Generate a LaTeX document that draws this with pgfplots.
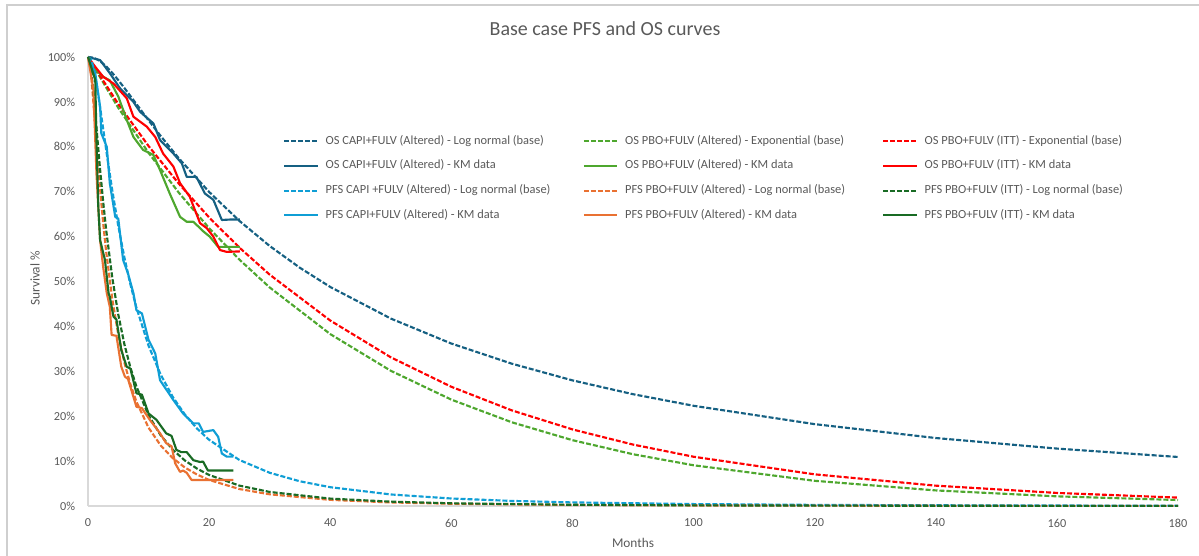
\documentclass[border=0pt]{standalone}
\usepackage{fontspec}
\setmainfont{Carlito}
\usepackage{pgfplots}
\pgfplotsset{compat=1.18}

\definecolor{osblue}{HTML}{156082}
\definecolor{pfsblue}{HTML}{0F9ED5}
\definecolor{osgreen}{HTML}{4EA72E}
\definecolor{pfsorange}{HTML}{E97132}
\definecolor{pfsgreen}{HTML}{196B24}
\definecolor{osred}{HTML}{FF0000}
\definecolor{txtgray}{HTML}{595959}
\definecolor{linegray}{HTML}{D9D9D9}
\definecolor{framegray}{HTML}{CFCFCF}

\newcommand{\lgd}[1]{\makebox[192.75pt][l]{#1}}

\begin{document}
\begin{tikzpicture}
% picture frame: 1 px of the reference = 0.75pt
\path[use as bounding box] (-66pt,-37.5pt) rectangle (833.25pt,379.5pt);
\draw[framegray, line width=1pt] (-60.75pt,-60pt) -- (-60.75pt,375.75pt) -- (900pt,375.75pt);

\begin{axis}[
  at={(0,0)}, anchor=south west,
  scale only axis,
  width=817.5pt, height=336.75pt,
  xmin=0, xmax=180, ymin=0, ymax=100,
  xtick={0,20,...,180},
  ytick={0,10,...,100},
  yticklabel={\pgfmathprintnumber{\tick}\%},
  /pgf/number format/assume math mode=true,
  axis x line*=bottom, axis y line*=left,
  x axis line style={-, draw=linegray, line width=0.9pt},
  y axis line style={-, draw=linegray, line width=0.9pt},
  major tick length=0pt,
  tick label style={font=\fontsize{9.2}{11}\selectfont, text=txtgray, inner sep=0pt},
  yticklabel style={anchor=east, xshift=-9.4pt},
  xticklabel style={anchor=north, yshift=-9.5pt},
  clip=false,
  title={Base case PFS and OS curves},
  title style={at={(0.4743,1)}, anchor=center, yshift=15pt,
    font=\fontsize{15}{17}\selectfont, text=txtgray},
  xlabel={Months},
  xlabel style={at={(0.5,0)}, anchor=center, yshift=-27.75pt,
    font=\fontsize{10}{12}\selectfont, text=txtgray},
  ylabel={Survival \%},
  ylabel style={at={(0,0.5067)}, anchor=center, yshift=39.75pt,
    font=\fontsize{10}{12}\selectfont, text=txtgray},
  legend columns=3,
  legend cell align=left,
  legend style={at={(0.1789,0.8255)}, anchor=north west, draw=none, fill=none,
    font=\fontsize{9.3}{11}\selectfont, text=txtgray, inner sep=0pt,
    row sep=10pt,
    nodes={inner sep=0pt, text height=6.5pt, text depth=2pt},
    /tikz/every odd column/.append style={column sep=5.25pt},
    /tikz/every even column/.append style={column sep=0pt}},
  legend image code/.code={\draw[#1] (0pt,0pt) -- (25pt,0pt);},
  every axis plot/.append style={line width=1.6pt, line join=round},
  fit/.style={dash pattern=on 3.75pt off 1.5pt},
]

% ---- OS fitted curves ----
\addplot[osblue, fit] table {
t s
0 100
1 99.82
2 99.09
3 97.92
4 96.47
5 94.85
6 93.11
8 89.51
10 85.90
12 82.41
15 77.43
20 69.95
25 63.50
30 57.91
35 53.05
40 48.79
50 41.75
60 36.18
70 31.69
80 27.98
90 24.90
100 22.32
120 18.23
140 15.14
160 12.79
180 10.92
};
\addlegendentry{\lgd{OS CAPI+FULV (Altered) - Log normal (base)}}

\addplot[osgreen, fit] table {
t s
0 100
5 88.69
10 78.66
15 69.77
20 61.88
25 54.88
30 48.68
40 38.29
50 30.12
60 23.69
70 18.64
80 14.66
90 11.53
100 9.07
120 5.61
140 3.47
160 2.15
180 1.33
};
\addlegendentry{\lgd{OS PBO+FULV (Altered) - Exponential (base)}}

\addplot[osred, fit] table {
t s
0 100
5 89.53
10 80.17
15 71.78
20 64.27
25 57.55
30 51.53
40 41.31
50 33.12
60 26.55
70 21.29
80 17.06
90 13.68
100 10.97
120 7.05
140 4.53
160 2.91
180 1.87
};
\addlegendentry{\lgd{OS PBO+FULV (ITT) - Exponential (base)}}

% ---- OS KM data ----
\addplot[osblue] table {
t s
0 100
2.0 99.3
3.6 96.4
5.3 93.0
7.5 90.0
8.6 87.8
10.8 85.2
11.9 81.5
14.1 78.5
15.5 76.3
16.3 73.3
17.9 73.3
19.3 69.6
20.7 68.2
22.1 63.7
23.5 63.8
25.1 63.8
};
\addlegendentry{\lgd{OS CAPI+FULV (Altered) - KM data}}

\addplot[osgreen] table {
t s
0 100
1.4 97.0
2.5 95.6
3.6 94.8
5.0 91.2
6.4 86.0
7.5 82.2
9.1 79.3
10.8 78.2
11.9 74.8
13.5 69.6
15.2 64.4
16.3 63.3
17.4 63.3
19.1 61.1
20.1 60.0
21.5 57.7
25.1 57.7
};
\addlegendentry{\lgd{OS PBO+FULV (Altered) - KM data}}

\addplot[osred] table {
t s
0 100
1.2 97.8
2.5 95.6
4.2 94.1
6.4 90.8
7.5 86.7
9.7 84.5
11.1 82.2
12.4 78.5
14.1 75.6
15.2 71.9
16.8 68.9
18.5 63.0
19.6 61.9
20.7 60.0
21.8 57.0
22.9 56.6
25.1 56.7
};
\addlegendentry{\lgd{OS PBO+FULV (ITT) - KM data}}

% ---- PFS fitted curves ----
\addplot[pfsblue, fit] table {
t s
0 100
0.5 99.50
1 97.11
1.5 93.31
2 88.80
3 79.32
4 70.36
5 62.38
6 55.40
7 49.37
8 44.17
10 35.70
12 29.27
14 24.29
16 20.37
18 17.25
20 14.74
25 10.25
30 7.40
35 5.50
40 4.19
50 2.57
60 1.67
70 1.13
80 0.80
100 0.43
120 0.25
150 0.12
180 0.07
};
\addlegendentry{\lgd{PFS CAPI +FULV (Altered) - Log normal (base)}}

\addplot[pfsorange, fit] table {
t s
0 100
0.25 99.28
0.5 96.48
1 87.98
1.5 78.90
2 70.51
2.5 63.10
3 56.64
4 46.17
5 38.19
6 31.98
7 27.11
8 23.23
10 17.44
12 13.49
14 10.66
16 8.57
18 7.01
20 5.80
25 3.78
30 2.60
40 1.37
50 0.79
60 0.50
80 0.22
100 0.12
140 0.04
180 0.02
};
\addlegendentry{\lgd{PFS PBO+FULV (Altered) - Log normal (base)}}

\addplot[pfsgreen, fit] table {
t s
0 100
0.25 99.56
0.5 97.55
1 90.66
1.5 82.67
2 74.91
2.5 67.83
3 61.49
4 50.93
5 42.65
6 36.08
7 30.84
8 26.60
10 20.20
12 15.75
14 12.53
16 10.13
18 8.33
20 6.91
25 4.54
30 3.13
40 1.65
50 0.97
60 0.60
80 0.27
100 0.14
140 0.05
180 0.02
};
\addlegendentry{\lgd{PFS PBO+FULV (ITT) - Log normal (base)}}

% ---- PFS KM data ----
\addplot[pfsblue] table {
t s
0 100
1.2 96.4
2.0 88.9
2.2 83.0
3.1 80.0
3.6 71.9
4.5 64.4
5.0 64.0
5.8 54.8
6.6 51.8
7.5 47.4
8.0 43.6
8.9 42.9
10.0 37.0
11.1 34.0
11.9 28.0
14.1 23.6
15.7 20.6
17.4 18.4
18.3 18.4
19.0 16.5
20.7 16.9
21.5 15.4
22.1 11.7
22.9 11.0
24.0 11.0
};
\addlegendentry{\lgd{PFS CAPI+FULV (Altered) - KM data}}

\addplot[pfsorange] table {
t s
0 100
0.9 92.6
1.4 74.0
2.0 59.2
2.5 53.3
3.1 47.4
3.6 44.4
3.9 38.1
4.7 37.9
5.5 31.0
6.1 28.8
6.6 28.3
8.0 22.1
8.9 21.8
10.2 19.2
11.9 16.2
12.9 14.0
13.8 13.3
14.4 9.5
15.2 7.6
15.7 7.9
16.3 7.4
17.1 5.8
24.0 5.8
};
\addlegendentry{\lgd{PFS PBO+FULV (Altered) - KM data}}

\addplot[pfsgreen] table {
t s
0 100
1.2 94.9
1.4 81.5
1.7 66.7
2.0 59.2
2.8 54.8
3.4 47.4
3.6 46.6
4.2 42.2
4.7 41.5
5.5 34.7
6.4 31.0
7.0 30.6
8.0 25.1
8.9 24.8
10.0 20.6
11.3 19.2
12.9 16.2
13.8 15.6
14.6 12.5
15.4 12.0
16.3 12.0
17.4 10.2
18.5 9.8
19.0 9.9
19.8 7.9
24.0 7.9
};
\addlegendentry{\lgd{PFS PBO+FULV (ITT) - KM data}}

\end{axis}
\end{tikzpicture}
\end{document}
